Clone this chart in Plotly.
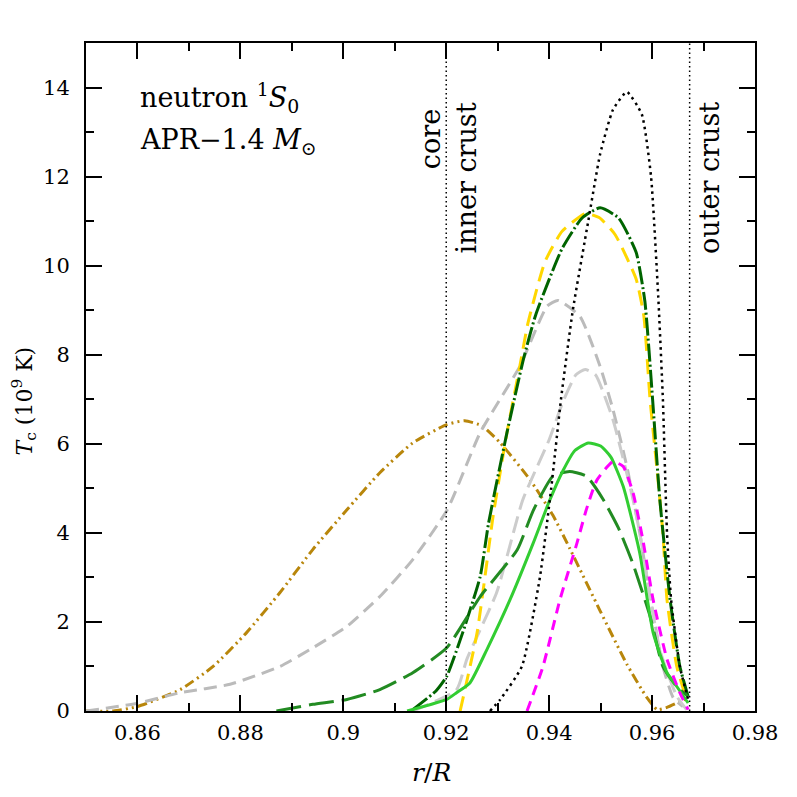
import plotly.graph_objects as go

# ---------------- data ----------------
gold_x = [0.8500, 0.8553, 0.8600, 0.8683, 0.8747, 0.8812, 0.8877, 0.8941, 0.9007, 0.9071, 0.9135, 0.9201,
          0.9236, 0.9270, 0.9305, 0.9363, 0.9407, 0.9440, 0.9499, 0.9551, 0.9590, 0.9610, 0.9629, 0.9654, 0.9670]
gold_y = [0.0, 0.0, 0.10, 0.48, 1.00, 1.76, 2.66, 3.63, 4.52, 5.35, 6.02, 6.43,
          6.52, 6.40, 6.02, 5.19, 4.40, 3.65, 2.25, 1.05, 0.30, 0.03, 0.08, 0.21, 0.30]

gray1_x = [0.8500, 0.8599, 0.8683, 0.8780, 0.8877, 0.8941, 0.9007, 0.9071, 0.9135, 0.9202, 0.9266, 0.9343,
           0.9396, 0.9417, 0.9460, 0.9499, 0.9524, 0.9551, 0.9576, 0.9590, 0.9605, 0.9621, 0.9641, 0.9660]
gray1_y = [0.0, 0.17, 0.41, 0.60, 1.00, 1.42, 1.90, 2.57, 3.40, 4.52, 6.25, 7.74,
           9.09, 9.22, 8.86, 7.74, 6.77, 5.49, 4.00, 3.00, 2.00, 1.00, 0.30, 0.10]

gray2_x = [0.9135, 0.9220, 0.9240, 0.9298, 0.9349, 0.9400, 0.9427, 0.9452, 0.9470, 0.9490, 0.9524,
           0.9563, 0.9576, 0.9615, 0.9648, 0.9667]
gray2_y = [0.0, 0.48, 1.16, 2.66, 4.75, 6.09, 6.95, 7.55, 7.67, 7.55, 6.54,
           4.75, 4.00, 1.38, 0.33, 0.03]

yellow_x = [0.9227, 0.9260, 0.9291, 0.9318, 0.9343, 0.9359, 0.9392, 0.9425, 0.9470, 0.9497, 0.9528,
            0.9569, 0.9584, 0.9596, 0.9609, 0.9621, 0.9629, 0.9648, 0.9667]
yellow_y = [0.0, 1.76, 4.37, 6.25, 7.74, 8.72, 10.09, 10.77, 11.17, 11.08, 10.70,
            9.70, 8.87, 7.00, 5.49, 4.00, 2.50, 1.00, 0.26]

dkgreen_x = [0.9135, 0.9180, 0.9201, 0.9232, 0.9266, 0.9282, 0.9318, 0.9350, 0.9374, 0.9425, 0.9464,
             0.9499, 0.9535, 0.9569, 0.9586, 0.9601, 0.9615, 0.9635, 0.9654, 0.9670]
dkgreen_y = [0.03, 0.45, 0.78, 1.76, 3.02, 4.20, 6.25, 7.90, 8.90, 10.38, 11.07,
             11.30, 11.07, 10.30, 9.20, 7.00, 4.75, 2.50, 1.00, 0.33]

forest_x = [0.8870, 0.8941, 0.9007, 0.9071, 0.9135, 0.9201, 0.9266, 0.9338, 0.9369, 0.9407, 0.9440,
            0.9473, 0.9505, 0.9535, 0.9563, 0.9596, 0.9621, 0.9648, 0.9670]
forest_y = [0.0, 0.15, 0.26, 0.48, 0.86, 1.42, 2.57, 3.62, 4.50, 5.27, 5.38,
            5.27, 4.75, 4.10, 3.30, 2.13, 1.00, 0.55, 0.33]

lime_x = [0.9124, 0.9201, 0.9220, 0.9246, 0.9279, 0.9324, 0.9369, 0.9400, 0.9427, 0.9450, 0.9476,
          0.9500, 0.9520, 0.9544, 0.9576, 0.9602, 0.9629, 0.9648, 0.9670]
lime_y = [0.0, 0.26, 0.41, 0.63, 1.38, 2.50, 3.77, 4.70, 5.40, 5.85, 6.02,
          5.95, 5.70, 5.04, 3.55, 1.76, 0.86, 0.55, 0.18]

magenta_x = [0.9357, 0.9388, 0.9421, 0.9454, 0.9473, 0.9493, 0.9524, 0.9544, 0.9563, 0.9582, 0.9602,
             0.9629, 0.9654, 0.9670]
magenta_y = [0.0, 1.00, 2.50, 3.77, 4.55, 5.19, 5.60, 5.49, 4.90, 3.85, 2.50,
             1.16, 0.41, 0.03]

black_x = [0.9285, 0.9305, 0.9347, 0.9382, 0.9404, 0.9423, 0.9446, 0.9476, 0.9499, 0.9524, 0.9551,
           0.9580, 0.9598, 0.9612, 0.9621, 0.9629, 0.9637, 0.9654, 0.9670]
black_y = [0.0, 0.26, 1.00, 3.00, 5.00, 7.00, 9.00, 11.00, 12.50, 13.50, 13.90,
           13.40, 12.00, 9.30, 7.00, 4.00, 2.50, 1.00, 0.26]

boundaries = [0.92, 0.9673]

x_ticks = [0.86, 0.88, 0.90, 0.92, 0.94, 0.96, 0.98]
x_ticktext = ["0.86", "0.88", "0.9", "0.92", "0.94", "0.96", "0.98"]
y_ticks = [0, 2, 4, 6, 8, 10, 12, 14]

# ---------------- figure ----------------
FONT = "DejaVu Serif"
fig = go.Figure()

series = [
    (gold_x, gold_y, "#B8860B", "10px,4px,2px,4px,2px,4px"),
    (gray1_x, gray1_y, "#BBBBBB", "13px,7px"),
    (gray2_x, gray2_y, "#CCCCCC", "17px,7px"),
    (yellow_x, yellow_y, "#FFD700", "15px,8px"),
    (dkgreen_x, dkgreen_y, "#006400", "18px,3px,2px,3px"),
    (forest_x, forest_y, "#228B22", "25px,8px"),
    (lime_x, lime_y, "#32CD32", "solid"),
    (magenta_x, magenta_y, "#FF00FF", "10px,7px"),
    (black_x, black_y, "#000000", "2.5px,4px"),
]
for xs, ys, col, dash in series:
    fig.add_trace(go.Scatter(x=xs, y=ys, mode="lines",
                             line=dict(color=col, width=3 if col != "#000000" else 2.5,
                                       dash=dash, shape="spline", smoothing=0.5),
                             showlegend=False, hoverinfo="skip"))

for b in boundaries:
    fig.add_trace(go.Scatter(x=[b, b], y=[0, 15], mode="lines",
                             line=dict(color="black", width=1.5, dash="1.5px,3px"),
                             showlegend=False, hoverinfo="skip"))

axis_common = dict(showgrid=False, zeroline=False, showline=True, linecolor="black", linewidth=2,
                   mirror="ticks", ticks="inside", ticklen=16, tickwidth=1.5, tickcolor="black",
                   tickfont=dict(family=FONT, size=21, color="black"))

fig.update_xaxes(range=[0.85, 0.98], tickvals=x_ticks, ticktext=x_ticktext, ticklabelstandoff=2,
                 minor=dict(dtick=0.01, tick0=0.85, ticklen=8, tickwidth=1.5, tickcolor="black", ticks="inside"),
                 **axis_common)
fig.update_yaxes(range=[0, 15], tickvals=y_ticks, ticklabelstandoff=10,
                 minor=dict(dtick=1, tick0=0, ticklen=8, tickwidth=1.5, tickcolor="black", ticks="inside"),
                 **axis_common)

ann_font = dict(family=FONT, size=27, color="black")
annotations = [
    dict(text="neutron <sup>1</sup><i>S</i><sub>0</sub>", x=0.0777, y=0.919, xref="paper", yref="paper",
         xanchor="left", yanchor="middle", showarrow=False, font=ann_font),
    dict(text="APR\u22121.4 <i>M</i><sub>\u2299</sub>", x=0.0777, y=0.853, xref="paper", yref="paper",
         xanchor="left", yanchor="middle", showarrow=False, font=ann_font),
    dict(text="core", x=0.91685, y=0.904, xref="x", yref="paper", textangle=-90,
         xanchor="center", yanchor="top", showarrow=False, font=ann_font),
    dict(text="inner crust", x=0.92384, y=0.9147, xref="x", yref="paper", textangle=-90,
         xanchor="center", yanchor="top", showarrow=False, font=ann_font),
    dict(text="outer crust", x=0.97126, y=0.9147, xref="x", yref="paper", textangle=-90,
         xanchor="center", yanchor="top", showarrow=False, font=ann_font),
    dict(text="<i>T</i><sub>c</sub> (10<sup>9</sup> K)", x=-0.092, y=0.464, xref="paper", yref="paper",
         textangle=-90, xanchor="center", yanchor="middle", showarrow=False,
         font=dict(family=FONT, size=22, color="black")),
    dict(text="<i>r</i>/<i>R</i>", x=0.517, y=-0.092, xref="paper", yref="paper",
         xanchor="center", yanchor="middle", showarrow=False,
         font=dict(family=FONT, size=25, color="black")),
]

# the page body adds an 8px offset, so the figure is 8px smaller and margins shifted
fig.update_layout(width=789, height=789, margin=dict(l=78, r=42, t=35, b=86),
                  plot_bgcolor="white", paper_bgcolor="white", annotations=annotations)

fig.write_html("out.html")
